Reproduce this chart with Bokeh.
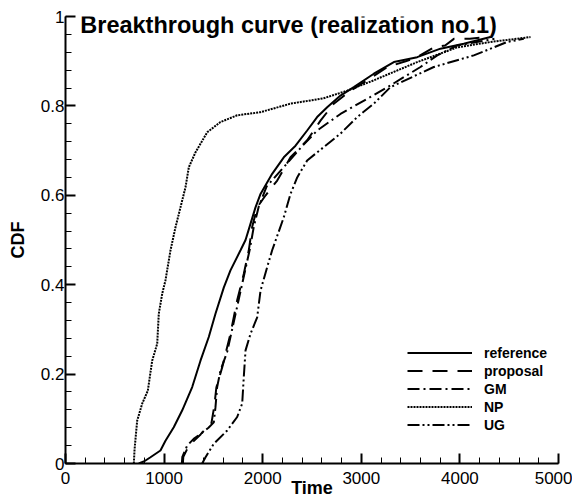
from bokeh.plotting import figure
from bokeh.models import Range1d, FixedTicker, Label, Legend, LegendItem
from bokeh.embed import file_html
from bokeh.resources import INLINE

# ---- data ----
ref_t = [743, 800, 862, 963, 1014, 1098, 1184, 1285, 1369, 1453, 1521, 1606, 1673, 1775, 1826, 1876, 1927, 1978,
         2096, 2214, 2333, 2451, 2552, 2654, 2789, 2924, 3127, 3330, 3567, 3803, 4039, 4310]
ref_cdf = [0, 0.005, 0.014, 0.029, 0.051, 0.081, 0.119, 0.171, 0.23, 0.283, 0.335, 0.394, 0.432, 0.477, 0.5, 0.536,
           0.573, 0.603, 0.648, 0.685, 0.711, 0.745, 0.775, 0.797, 0.823, 0.842, 0.872, 0.898, 0.909, 0.928, 0.939, 0.954]

prop_t = [1190, 1195, 1240, 1300, 1370, 1430, 1480, 1510, 1530, 1589, 1673, 1741, 1808, 1859, 1893, 1944, 2030,
          2147, 2282, 2451, 2586, 2721, 2890, 3093, 3263, 3450, 3567, 3736, 3850, 3939, 4100, 4300]
prop_cdf = [0, 0.015, 0.035, 0.05, 0.065, 0.08, 0.09, 0.13, 0.17, 0.215, 0.29, 0.365, 0.424, 0.477, 0.529, 0.573,
            0.6, 0.633, 0.685, 0.723, 0.767, 0.805, 0.834, 0.862, 0.887, 0.9, 0.909, 0.931, 0.935, 0.95, 0.95, 0.955]

gm_t = [1180, 1185, 1234, 1300, 1369, 1450, 1504, 1521, 1538, 1572, 1640, 1700, 1760, 1820, 1870, 1910, 1960,
        2040, 2214, 2400, 2553, 2789, 3093, 3296, 3600, 3770, 3970, 4350]
gm_cdf = [0, 0.015, 0.04, 0.055, 0.066, 0.08, 0.092, 0.126, 0.171, 0.208, 0.25, 0.31, 0.37, 0.43, 0.48, 0.53, 0.575,
          0.62, 0.663, 0.71, 0.745, 0.782, 0.82, 0.846, 0.887, 0.913, 0.935, 0.95]

np_t = [693, 700, 712, 727, 778, 835, 879, 930, 946, 981, 1014, 1065, 1116, 1149, 1217, 1251, 1318, 1437, 1572,
        1741, 1978, 2282, 2617, 2857, 3124, 3567, 3973, 4310, 4716]
np_cdf = [0, 0.03, 0.06, 0.096, 0.134, 0.163, 0.23, 0.268, 0.335, 0.38, 0.41, 0.477, 0.529, 0.558, 0.618, 0.663,
          0.696, 0.741, 0.764, 0.779, 0.786, 0.805, 0.817, 0.834, 0.857, 0.898, 0.931, 0.943, 0.954]

ug_t = [1386, 1420, 1504, 1640, 1741, 1792, 1808, 1826, 1876, 1944, 1978, 2045, 2096, 2214, 2282, 2350, 2451,
        2620, 2789, 2958, 3127, 3296, 3735, 4141, 4479, 4648]
ug_cdf = [0, 0.014, 0.044, 0.074, 0.104, 0.134, 0.193, 0.253, 0.29, 0.327, 0.387, 0.439, 0.477, 0.551, 0.603, 0.64,
          0.678, 0.708, 0.738, 0.775, 0.805, 0.842, 0.887, 0.913, 0.943, 0.95]

series_names = ["reference", "proposal", "GM", "NP", "UG"]

x_ticks = [0, 1000, 2000, 3000, 4000, 5000]
y_ticks = [0, 0.2, 0.4, 0.6, 0.8, 1]
y_tick_labels = ["0", "0.2", "0.4", "0.6", "0.8", "1"]

title_text = "Breakthrough curve (realization no.1)"
x_label = "Time"
y_label = "CDF"

FONT = "Liberation Sans"

p = figure(frame_width=493, frame_height=447, output_backend="svg", toolbar_location=None,
           x_range=Range1d(0, 5000), y_range=Range1d(0, 1),
           min_border_left=65, min_border_right=14, min_border_top=16, min_border_bottom=33)
p.outline_line_color = None
p.grid.visible = False
p.background_fill_color = "white"
p.border_fill_color = "white"

# axes
p.xaxis.ticker = FixedTicker(ticks=x_ticks, minor_ticks=list(range(0, 5001, 200)))
p.yaxis.ticker = FixedTicker(ticks=y_ticks, minor_ticks=[i * 0.04 for i in range(26)])
p.yaxis.major_label_overrides = {v: s for v, s in zip(y_ticks, y_tick_labels)}
p.xaxis.formatter.use_scientific = False
for ax in (p.xaxis, p.yaxis):
    ax.axis_line_width = 2
    ax.axis_line_color = "black"
    ax.major_tick_in = 10
    ax.major_tick_out = 0
    ax.minor_tick_in = 6
    ax.minor_tick_out = 0
    ax.major_tick_line_width = 2
    ax.minor_tick_line_width = 1
    ax.major_tick_line_color = "black"
    ax.minor_tick_line_color = "black"
    ax.major_label_text_font = FONT
    ax.major_label_text_font_size = "17px"
    ax.major_label_text_color = "black"
    ax.axis_label_text_font = FONT
    ax.axis_label_text_font_size = "18px"
    ax.axis_label_text_font_style = "bold"
    ax.axis_label_text_color = "black"
p.xaxis.axis_label = x_label
p.yaxis.axis_label = y_label
p.xaxis.major_label_standoff = 8
p.xaxis.axis_label_standoff = -9
p.yaxis.major_label_standoff = 1
p.yaxis.axis_label_standoff = 10

lw = 2
r1 = p.line(ref_t, ref_cdf, line_color="black", line_width=lw)
r2 = p.line(prop_t, prop_cdf, line_color="black", line_width=lw, line_dash="15 10")
r3 = p.line(gm_t, gm_cdf, line_color="black", line_width=lw, line_dash="12 4 2 4")
r4 = p.line(np_t, np_cdf, line_color="black", line_width=lw, line_dash="2 1")
r5 = p.line(ug_t, ug_cdf, line_color="black", line_width=lw, line_dash="12 3 2 3 2 3")

legend = Legend(items=[LegendItem(label=n, renderers=[r]) for n, r in zip(series_names, [r1, r2, r3, r4, r5])],
                location=(342, 30), padding=0, margin=0, spacing=1,
                glyph_width=65, glyph_height=17, label_height=17, label_standoff=12,
                label_text_font=FONT, label_text_font_size="14px", label_text_font_style="bold",
                label_text_color="black",
                border_line_alpha=0, background_fill_alpha=0)
p.add_layout(legend, "center")

p.add_layout(Label(x=150, y=0.981, text=title_text, text_font=FONT, text_font_size="23.5px",
                   text_font_style="bold", text_color="black", text_baseline="alphabetic", text_align="left",
                   level="overlay"))

open("out.html", "w").write(file_html(p, INLINE))
